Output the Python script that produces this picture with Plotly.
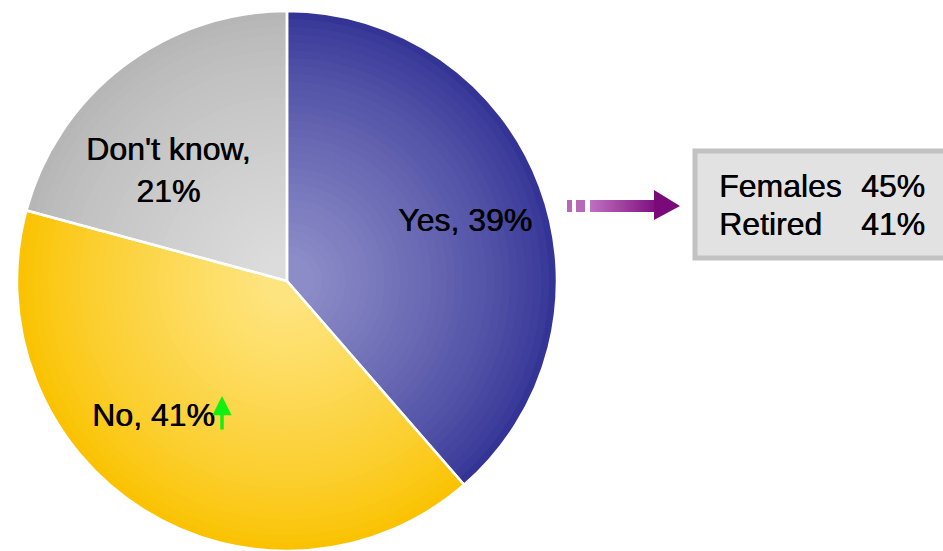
import plotly.graph_objects as go

# ---- data ----
labels = ["Yes", "No", "Don't know"]
values = [39, 41, 21]
breakdown_labels = ["Females", "Retired"]
breakdown_values = [45, 41]

# ---- styles ----
W, H = 943, 551
outer_cols = [(52, 52, 150), (250, 194, 0), (182, 182, 182)]
inner_cols = [(140, 140, 200), (254, 228, 126), (220, 220, 220)]
FONT = "Liberation Sans, Arial, sans-serif"

cx, cy, R = 287, 281, 270  # pie centre / radius in px


def mix(a, b, t):
    return "rgb(%d,%d,%d)" % tuple(round(a[k] + (b[k] - a[k]) * t) for k in range(3))


fig = go.Figure()

# layered pies for a soft radial shading
N = 32
for i in range(N):
    s = 1 - 0.9 * i / (N - 1)
    t = (i / (N - 1)) ** 0.8
    rx, ry = R * s / W, R * s / H
    fig.add_trace(go.Pie(
        labels=labels, values=values, sort=False, direction="clockwise", rotation=0,
        marker=dict(colors=[mix(outer_cols[k], inner_cols[k], t) for k in range(3)],
                    line=dict(width=0)),
        textinfo="none", hoverinfo="skip", showlegend=False,
        domain=dict(x=[cx / W - rx, cx / W + rx], y=[1 - cy / H - ry, 1 - cy / H + ry]),
    ))

# separators on top
rx, ry = R / W, R / H
fig.add_trace(go.Pie(
    labels=labels, values=values, sort=False, direction="clockwise", rotation=0,
    marker=dict(colors=["rgba(0,0,0,0)"] * 3, line=dict(color="white", width=2.5)),
    textinfo="none", hoverinfo="label+percent", showlegend=False,
    domain=dict(x=[cx / W - rx, cx / W + rx], y=[1 - cy / H - ry, 1 - cy / H + ry]),
))

# arrow shaft with gradient
fig.add_trace(go.Scatter(
    x=[590, 655, 655, 590, 590], y=[200, 200, 212, 212, 200], mode="lines",
    line=dict(width=0), fill="toself",
    fillgradient=dict(type="horizontal", colorscale=[[0, "#c070c0"], [1, "#801080"]]),
    hoverinfo="skip", showlegend=False,
))

shapes = [
    dict(type="rect", xref="x", yref="y", x0=567, x1=572, y0=200, y1=212,
         fillcolor="#b868b8", line=dict(width=0)),
    dict(type="rect", xref="x", yref="y", x0=576, x1=585, y0=200, y1=212,
         fillcolor="#b868b8", line=dict(width=0)),
    dict(type="path", xref="x", yref="y", path="M 654 190 L 680 206 L 654 220 Z",
         fillcolor="#7a0a7a", line=dict(width=0)),
    dict(type="rect", xref="x", yref="y", x0=695, x1=952, y0=151, y1=258,
         fillcolor="#e2e2e2", line=dict(color="#c2c2c2", width=5)),
]

label_pos = [(465, 220), (153, 415), (168, 170)]
label_text = [
    f"{labels[0]}, {values[0]}%",
    f"{labels[1]}, {values[1]}%",
    f"{labels[2]},<br>{values[2]}%",
]
label_font = dict(family=FONT, size=32, color="black", shadow="0.6px 0px 0px #000")
annotations = []
for (x, y), txt in zip(label_pos, label_text):
    annotations.append(dict(x=x, y=y, xref="x", yref="y", text=txt, showarrow=False,
                            font=label_font, xanchor="center", yanchor="middle"))

# green up arrow
annotations.append(dict(x=222, y=396, xref="x", yref="y", ax=222, ay=431, axref="x", ayref="y",
                        text="", showarrow=True, arrowhead=2, arrowsize=1.1, arrowwidth=3.5,
                        arrowcolor="#12f012"))

rows_y = [186, 224]
box_font = dict(family=FONT, size=32, color="black", shadow="0.4px 0px 0px #000")
for name, val, y in zip(breakdown_labels, breakdown_values, rows_y):
    annotations.append(dict(x=717, y=y, xref="x", yref="y", text=name, showarrow=False,
                            font=box_font, xanchor="left", yanchor="middle"))
    annotations.append(dict(x=927, y=y, xref="x", yref="y", text=f"{val}%", showarrow=False,
                            font=box_font, xanchor="right", yanchor="middle"))

fig.update_layout(
    width=W, height=H, margin=dict(l=0, r=0, t=0, b=0),
    paper_bgcolor="white", plot_bgcolor="rgba(0,0,0,0)",
    xaxis=dict(range=[0, W], visible=False, fixedrange=True),
    yaxis=dict(range=[H, 0], visible=False, fixedrange=True),
    shapes=shapes, annotations=annotations,
)

fig.write_html("out.html", config={"displayModeBar": False},
               post_script="document.body.style.margin='0';")
